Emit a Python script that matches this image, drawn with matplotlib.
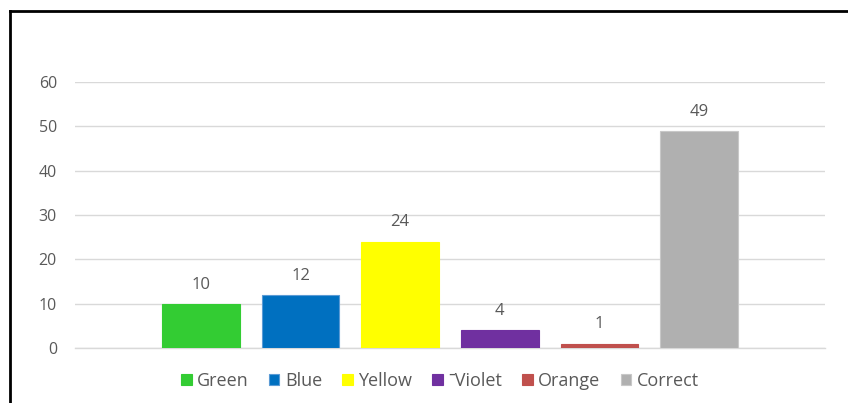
import matplotlib
matplotlib.use("Agg")
import matplotlib.pyplot as plt
import matplotlib.lines as mlines
import numpy as np

plt.rcParams["font.family"] = ["Open Sans", "DejaVu Sans"]

labels = ["Green", "Blue", "Yellow", "ˉViolet", "Orange", "Correct"]
values = [10, 12, 24, 4, 1, 49]
colors = ["#33CC33", "#0070C0", "#FFFF00", "#7030A0", "#C0504D", "#B0B0B0"]
edges  = ["#33CC33", "#5B9BD5", "#FFFF00", "#7030A0", "#C0504D", "#C8C8C8"]
yticks = [0, 10, 20, 30, 40, 50, 60]

W, H = 848, 403
fig = plt.figure(figsize=(W / 100, H / 100), dpi=100)
ax = fig.add_axes([75 / W, 1 - 348 / H, 750 / W, 266 / H])

x = np.arange(len(labels))
bars = ax.bar(x, values, 0.78, color=colors, edgecolor=edges, linewidth=0.8,
              label=labels, zorder=3)

for b, v in zip(bars, values):
    ax.annotate(f"{v}", xy=(b.get_x() + b.get_width() / 2, v),
                xytext=(0, 8), textcoords="offset points",
                ha="center", va="bottom", fontsize=12, color="#595959")

ax.set_xlim(-1.263, 6.263)
ax.set_ylim(0, 60)
ax.set_yticks(yticks)
ax.set_xticks([])
ax.yaxis.grid(True, color="#D9D9D9", linewidth=1)
ax.set_axisbelow(True)
for s in ["top", "right", "left"]:
    ax.spines[s].set_visible(False)
ax.spines["bottom"].set_color("#D9D9D9")
ax.spines["bottom"].set_linewidth(1)
ax.tick_params(axis="y", length=0, pad=13, labelsize=11.5, labelcolor="#595959")

fig.legend(handles=list(bars), labels=labels, loc="center",
           bbox_to_anchor=(440 / W, 1 - 381 / H), ncol=6, frameon=False,
           fontsize=13, labelcolor="#595959", handlelength=0.58,
           handleheight=0.58, handletextpad=0.3, columnspacing=1.12)

# chart frame (only left and top edges are visible in the crop)
fig.add_artist(mlines.Line2D([10 / W, 10 / W], [0, 1 - 11 / H], color="black",
                             linewidth=2, transform=fig.transFigure))
fig.add_artist(mlines.Line2D([10 / W, 1], [1 - 11 / H, 1 - 11 / H], color="black",
                             linewidth=2, transform=fig.transFigure))

fig.savefig("out.png", dpi=100)
